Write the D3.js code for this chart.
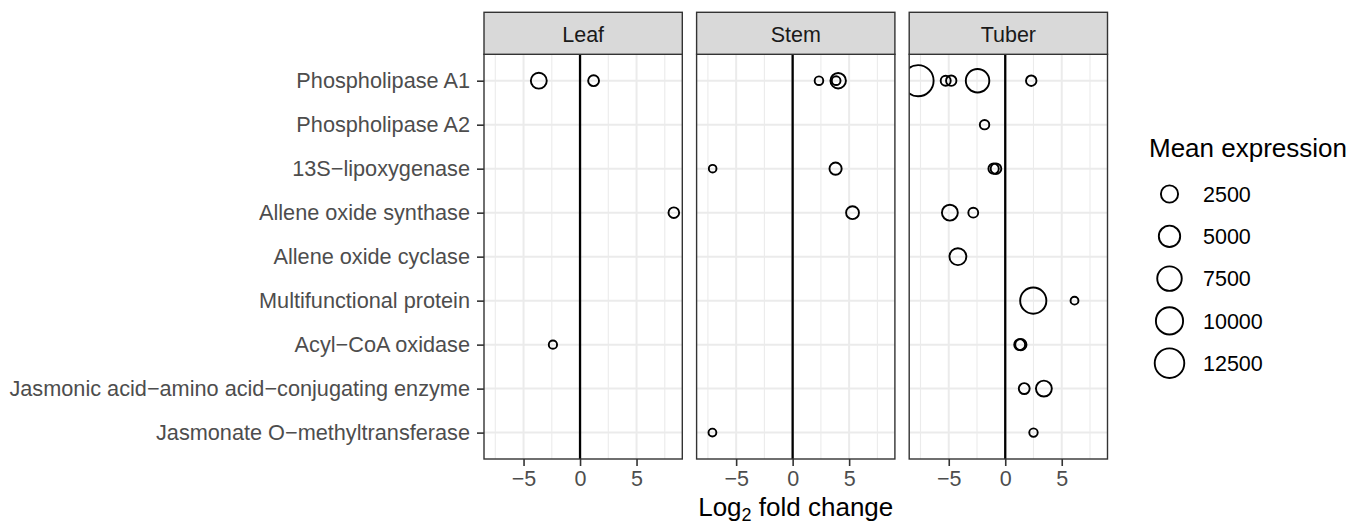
<!DOCTYPE html>
<html>
<head>
<meta charset="utf-8">
<script src="https://cdn.jsdelivr.net/npm/d3@7"></script>
<style>
  body { margin: 0; background: #fff; }
  text { font-family: "Liberation Sans", Arial, sans-serif; }
</style>
</head>
<body>
<script>
// genes on the y axis, top to bottom
const genes = [
  "Phospholipase A1",
  "Phospholipase A2",
  "13S\u2212lipoxygenase",
  "Allene oxide synthase",
  "Allene oxide cyclase",
  "Multifunctional protein",
  "Acyl\u2212CoA oxidase",
  "Jasmonic acid\u2212amino acid\u2212conjugating enzyme",
  "Jasmonate O\u2212methyltransferase"
];
const tissues = ["Leaf", "Stem", "Tuber"];

// [gene index, log2 fold change, mean expression]
const leafPoints = [
  [0, -3.65, 1900], [0, 1.2, 340],
  [3, 8.3, 300],
  [6, -2.4, 30]
];
const stemPoints = [
  [0, 2.33, 50], [0, 4.03, 1720], [0, 3.85, 60],
  [2, -7.08, 5], [2, 3.8, 625],
  [3, 5.3, 810],
  [8, -7.1, 12]
];
const tuberPoints = [
  [0, -7.72, 14400], [0, -5.27, 200], [0, -4.78, 250], [0, -2.45, 6650], [0, 2.3, 270],
  [1, -1.83, 130],
  [2, -1.03, 250], [2, -0.82, 300],
  [3, -4.9, 1890], [3, -2.83, 180],
  [4, -4.19, 2350],
  [5, 2.48, 9025], [5, 6.13, 12],
  [6, 1.28, 350], [6, 1.38, 420],
  [7, 1.68, 340], [7, 3.42, 1890],
  [8, 2.5, 40]
];
const xTicks = [-5, 0, 5];
const xMinor = [-7.5, -2.5, 2.5, 7.5];
const legendValues = [2500, 5000, 7500, 10000, 12500];

const W = 1352, H = 523;
const panelX0 = 484, panelW = 198.3, panelGap = 14.3;
const stripTop = 12.3, panelTop = 54.3, panelBottom = 459;

const svg = d3.select("body").append("svg")
  .attr("width", W).attr("height", H);

const x = d3.scaleLinear().domain([-8.5, 9.05]).range([0, panelW]);
const y = d3.scalePoint().domain(d3.range(genes.length))
  .range([0, panelBottom - panelTop]).padding(0.6);

const allPoints = [leafPoints, stemPoints, tuberPoints];
const maxExpr = d3.max(allPoints.flat(), d => d[2]);
const r = d3.scaleSqrt().domain([0, maxExpr]).range([3.6, 15.6]);

tissues.forEach((t, i) => {
  const px = panelX0 + i * (panelW + panelGap);
  const g = svg.append("g").attr("transform", `translate(${px},${panelTop})`);
  const h = panelBottom - panelTop;

  // grid
  g.selectAll(".minor").data(xMinor).join("line")
    .attr("x1", d => x(d)).attr("x2", d => x(d))
    .attr("y1", 0).attr("y2", h)
    .attr("stroke", "#ebebeb").attr("stroke-width", 1.1);
  g.selectAll(".majx").data(xTicks).join("line")
    .attr("x1", d => x(d)).attr("x2", d => x(d))
    .attr("y1", 0).attr("y2", h)
    .attr("stroke", "#ebebeb").attr("stroke-width", 2);
  g.selectAll(".majy").data(d3.range(genes.length)).join("line")
    .attr("x1", 0).attr("x2", panelW)
    .attr("y1", d => y(d)).attr("y2", d => y(d))
    .attr("stroke", "#ebebeb").attr("stroke-width", 2);

  // zero line
  g.append("line")
    .attr("x1", x(0)).attr("x2", x(0)).attr("y1", 0).attr("y2", h)
    .attr("stroke", "#000").attr("stroke-width", 2.3);

  // points, clipped to the panel
  svg.append("clipPath").attr("id", "clip" + i)
    .append("rect").attr("width", panelW).attr("height", h);
  g.append("g").attr("clip-path", `url(#clip${i})`)
    .selectAll("circle").data(allPoints[i]).join("circle")
    .attr("cx", d => x(d[1])).attr("cy", d => y(d[0]))
    .attr("r", d => r(d[2]))
    .attr("fill", "none").attr("stroke", "#000").attr("stroke-width", 1.9);

  // border
  g.append("rect").attr("width", panelW).attr("height", h)
    .attr("fill", "none").attr("stroke", "#333").attr("stroke-width", 1.4);

  // strip
  svg.append("rect")
    .attr("x", px).attr("y", stripTop)
    .attr("width", panelW).attr("height", panelTop - stripTop)
    .attr("fill", "#d9d9d9").attr("stroke", "#333").attr("stroke-width", 1.4);
  svg.append("text")
    .attr("x", px + panelW / 2).attr("y", 41.7)
    .attr("text-anchor", "middle").attr("font-size", 21.5)
    .attr("fill", "#1a1a1a").text(t);

  // x axis
  const ax = g.append("g").attr("transform", `translate(0,${h})`)
    .call(d3.axisBottom(x).tickValues(xTicks).tickSize(7).tickPadding(5));
  ax.select(".domain").remove();
  ax.selectAll(".tick line").attr("stroke", "#333").attr("stroke-width", 1.6);
  ax.selectAll(".tick text").attr("font-size", 21.5).attr("fill", "#4d4d4d")
    .attr("font-family", "Liberation Sans, Arial, sans-serif");

  // y axis on the first panel
  if (i === 0) {
    const ay = g.append("g")
      .call(d3.axisLeft(y).tickFormat(d => genes[d]).tickSize(7).tickPadding(7));
    ay.select(".domain").remove();
    ay.selectAll(".tick line").attr("stroke", "#333").attr("stroke-width", 1.6);
    ay.selectAll(".tick text").attr("font-size", 21.7).attr("fill", "#4d4d4d")
      .attr("font-family", "Liberation Sans, Arial, sans-serif");
  }
});

// x axis title
const xt = svg.append("text")
  .attr("x", panelX0 + (3 * panelW + 2 * panelGap) / 2).attr("y", 515.5)
  .attr("text-anchor", "middle").attr("font-size", 26).attr("fill", "#000");
xt.append("tspan").text("Log");
xt.append("tspan").attr("font-size", 18).attr("dy", 5).text("2");
xt.append("tspan").attr("dy", -5).text(" fold change");

// legend
svg.append("text").attr("x", 1149).attr("y", 156.5)
  .attr("font-size", 26).attr("fill", "#000").text("Mean expression");
const lg = svg.append("g").selectAll("g").data(legendValues).join("g")
  .attr("transform", (d, i) => `translate(1169.5,${194 + i * 42.3})`);
lg.append("circle").attr("r", d => r(d))
  .attr("fill", "none").attr("stroke", "#000").attr("stroke-width", 1.9);
lg.append("text").attr("x", 33.5).attr("dy", "0.36em")
  .attr("font-size", 21.5).attr("fill", "#000").text(d => d);
</script>
</body>
</html>
